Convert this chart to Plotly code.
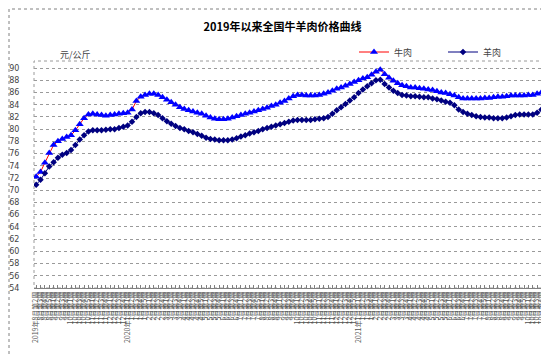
import plotly.graph_objects as go

weeks = [
    "2019年8月第2周", "8月第3周", "8月第4周", "8月第5周",
    "9月第1周", "9月第2周", "9月第3周", "9月第4周",
    "10月第1周", "10月第2周", "10月第3周", "10月第4周", "10月第5周",
    "11月第1周", "11月第2周", "11月第3周", "11月第4周",
    "12月第1周", "12月第2周", "12月第3周", "12月第4周",
    "2020年1月第1周", "1月第2周", "1月第3周", "1月第4周", "1月第5周",
    "2月第1周", "2月第2周", "2月第3周", "2月第4周",
    "3月第1周", "3月第2周", "3月第3周", "3月第4周",
    "4月第1周", "4月第2周", "4月第3周", "4月第4周", "4月第5周",
    "5月第1周", "5月第2周", "5月第3周", "5月第4周",
    "6月第1周", "6月第2周", "6月第3周", "6月第4周",
    "7月第1周", "7月第2周", "7月第3周", "7月第4周", "7月第5周",
    "8月第1周", "8月第2周", "8月第3周", "8月第4周",
    "9月第1周", "9月第2周", "9月第3周", "9月第4周",
    "10月第1周", "10月第2周", "10月第3周", "10月第4周", "10月第5周",
    "11月第1周", "11月第2周", "11月第3周", "11月第4周",
    "12月第1周", "12月第2周", "12月第3周", "12月第4周", "12月第5周",
    "2021年1月第1周", "1月第2周", "1月第3周", "1月第4周",
    "2月第1周", "2月第2周", "2月第3周", "2月第4周",
    "3月第1周", "3月第2周", "3月第3周", "3月第4周",
    "4月第1周", "4月第2周", "4月第3周", "4月第4周", "4月第5周",
    "5月第1周", "5月第2周", "5月第3周", "5月第4周",
    "6月第1周", "6月第2周", "6月第3周", "6月第4周",
    "7月第1周", "7月第2周", "7月第3周", "7月第4周", "7月第5周",
    "8月第1周", "8月第2周", "8月第3周", "8月第4周",
    "9月第1周", "9月第2周", "9月第3周", "9月第4周", "9月第5周",
    "10月第1周", "10月第2周", "10月第3周", "10月第4周",
    "11月第1周",
]

beef = [
    72.2, 73.0, 74.5, 76.1, 77.4, 78.0, 78.4, 78.7, 79.0, 79.8,
    80.8, 81.8, 82.4, 82.5, 82.4, 82.3, 82.2, 82.3, 82.4, 82.5,
    82.6, 82.7, 83.2, 84.6, 85.3, 85.6, 85.8, 85.8, 85.6, 85.2,
    84.8, 84.4, 84.0, 83.6, 83.3, 83.1, 82.9, 82.7, 82.5, 82.2,
    81.9, 81.7, 81.6, 81.6, 81.7, 81.9, 82.1, 82.3, 82.5, 82.7,
    82.9, 83.1, 83.3, 83.5, 83.8, 84.0, 84.3, 84.6, 85.0, 85.4,
    85.6, 85.6, 85.5, 85.5, 85.5, 85.6, 85.8, 86.0, 86.3, 86.6,
    86.8, 87.1, 87.4, 87.7, 88.0, 88.3, 88.5, 88.9, 89.4, 89.7,
    89.0, 88.4, 87.9, 87.5, 87.2, 87.0, 86.8, 86.8, 86.7, 86.6,
    86.5, 86.4, 86.2, 86.0, 85.9, 85.7, 85.5, 85.2, 85.0, 85.0,
    85.0, 85.0, 85.0, 85.1, 85.1, 85.2, 85.3, 85.3, 85.4, 85.5,
    85.5, 85.5, 85.5, 85.6, 85.6, 85.8, 86.0, 86.3,
]

mutton = [
    70.9, 71.7, 72.8, 73.9, 74.6, 75.3, 75.8, 76.1, 76.6, 77.4,
    78.3, 79.0, 79.6, 79.8, 79.8, 79.8, 79.9, 80.0, 80.0, 80.2,
    80.4, 80.6, 81.2, 82.0, 82.6, 82.8, 82.8, 82.6, 82.3, 81.8,
    81.3, 80.9, 80.5, 80.2, 80.0, 79.7, 79.5, 79.2, 78.9, 78.6,
    78.4, 78.3, 78.2, 78.2, 78.2, 78.3, 78.5, 78.8, 79.0, 79.3,
    79.5, 79.7, 80.0, 80.2, 80.4, 80.6, 80.8, 81.0, 81.2, 81.4,
    81.5, 81.5, 81.5, 81.5, 81.6, 81.7, 81.8, 82.0, 82.5, 83.1,
    83.6, 84.1, 84.7, 85.2, 85.9, 86.5, 87.0, 87.5, 88.0, 88.1,
    87.4, 86.8, 86.3, 85.9, 85.6, 85.5, 85.4, 85.4, 85.3, 85.2,
    85.2, 85.0, 84.9, 84.7, 84.5, 84.3, 83.9, 83.2, 82.8, 82.5,
    82.3, 82.1, 82.0, 81.9, 81.9, 81.8, 81.8, 81.8, 81.9, 82.1,
    82.3, 82.4, 82.4, 82.4, 82.4, 82.7, 83.2, 83.5,
]

y_ticks = list(range(54, 91, 2))

n = len(weeks)
if len(beef) != n or len(mutton) != n:
    raise SystemExit(f"length mismatch {n} {len(beef)} {len(mutton)}")
x = list(range(n))

CJK = "Noto Sans CJK SC"
GRID = "#9a9a9a"

fig = go.Figure()
fig.add_trace(go.Scatter(
    x=x, y=beef, name="牛肉", mode="lines+markers",
    line=dict(color="#ff0000", width=1),
    marker=dict(symbol="triangle-up", size=7, color="#0000ff"),
))
fig.add_trace(go.Scatter(
    x=x, y=mutton, name="羊肉", mode="lines+markers",
    line=dict(color="#000080", width=1),
    marker=dict(symbol="diamond", size=5, color="#000080"),
))

fig.update_layout(
    width=549, height=357,
    margin=dict(l=26, r=9, t=53, b=77, autoexpand=False),
    paper_bgcolor="white", plot_bgcolor="white",
    font=dict(family=CJK, color="#333333", size=8),
    title=dict(text="<b>2019年以来全国牛羊肉价格曲线</b>", x=0.5, xanchor="center",
               y=1 - 19 / 357, yanchor="middle", font=dict(size=11, color="#000000", family=CJK)),
    legend=dict(orientation="h", x=(346 - 26) / 514, xanchor="left",
                y=(280 - 44) / 227, yanchor="middle",
                font=dict(size=9, color="#444444", family=CJK),
                bgcolor="rgba(0,0,0,0)", entrywidth=44, entrywidthmode="pixels",
                itemwidth=30, tracegroupgap=0),
    xaxis=dict(range=[-0.5, n - 0.5], tickmode="array", tickvals=x, ticktext=weeks,
               tickangle=-90, tickfont=dict(size=7, color="#555555", family=CJK),
               showgrid=False, zeroline=False, showline=True, linecolor="#808080",
               linewidth=1, ticks="inside", ticklen=3, tickcolor="#808080"),
    yaxis=dict(range=[54, 91.15], tickmode="array", tickvals=y_ticks,
               tickfont=dict(size=8, color="#444444", family="DejaVu Sans"),
               showgrid=True, gridcolor=GRID, griddash="dot", gridwidth=1,
               zeroline=False, showline=False, ticks="outside", ticklen=12,
               tickcolor="rgba(0,0,0,0)"),
    showlegend=True,
)

fig.add_annotation(text="元/公斤", xref="paper", yref="paper",
                   x=(50 - 26) / 514, y=(280 - 46) / 227, xanchor="left", yanchor="middle",
                   showarrow=False, font=dict(size=9, color="#444444", family=CJK))

# plot area border
fig.add_shape(type="rect", xref="paper", yref="paper", x0=0, x1=1, y0=0, y1=1,
              line=dict(color=GRID, width=1, dash="dot"), layer="below")
# outer chart border
fig.add_shape(type="rect", xref="paper", yref="paper",
              x0=(1 - 26) / 514, x1=(547 - 26) / 514,
              y0=(280 - 355) / 227, y1=(280 - 1) / 227,
              line=dict(color="#808080", width=1, dash="dot"))

fig.write_html("out.html")
